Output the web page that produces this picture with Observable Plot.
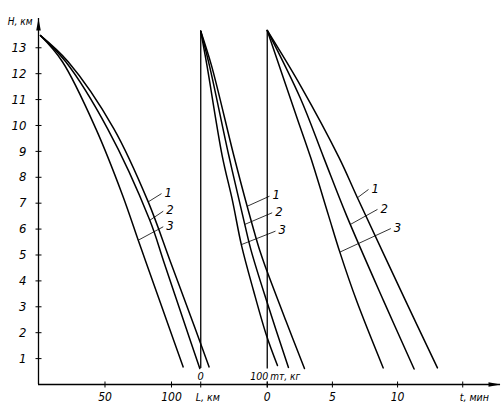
<!DOCTYPE html>
<html><head><meta charset="utf-8">
<script src="https://cdn.jsdelivr.net/npm/d3@7"></script>
<script src="https://cdn.jsdelivr.net/npm/@observablehq/plot@0.6"></script>
<style>body{margin:0;background:#fff}</style>
</head><body><div id="chart"></div>
<script>
// ---- data ----
// range L, km  vs altitude H, km
const rangeH_1 = [13.47, 12.46, 9.88, 7.05, 4.74, 2.16, 0.68];
const rangeL_1 = [1.5, 22.3, 56.6, 82.5, 99.2, 117.8, 128.3];
const rangeH_2 = [13.47, 12.46, 9.88, 6.34, 4.74, 2.16, 0.62];
const rangeL_2 = [1.5, 20.5, 51.9, 83.7, 94.2, 111.1, 121.3];
const rangeH_3 = [13.47, 12.46, 9.88, 7.31, 5.57, 4.74, 2.16, 0.68];
const rangeL_3 = [1.5, 18.0, 43.1, 63.2, 75.0, 80.7, 98.5, 108.8];
// fuel mass m_T, kg vs H
const fuelH_1 = [13.64, 12.31, 8.84, 6.88, 5.17, 4.38, 2.47, 0.62];
const fuelM_1 = [0, 16.2, 49.7, 69.8, 88.8, 99.6, 127.9, 156.0];
const fuelH_2 = [13.64, 12.31, 8.84, 6.18, 5.17, 3.24, 0.66];
const fuelM_2 = [0, 13.1, 42.2, 66.2, 75.8, 98.9, 131.9];
const fuelH_3 = [13.64, 12.31, 8.84, 7.10, 5.37, 3.63, 1.89, 0.73];
const fuelM_3 = [0, 9.4, 32.2, 47.7, 61.3, 79.3, 98.9, 115.4];
// time t, min vs H
const timeH_1 = [13.67, 11.54, 8.75, 7.21, 3.24, 0.64];
const timeT_1 = [0, 2.55, 5.52, 6.92, 10.61, 13.06];
const timeH_2 = [13.67, 11.04, 8.75, 6.53, 3.24, 0.60];
const timeT_2 = [0, 2.55, 4.34, 6.08, 8.92, 11.27];
const timeH_3 = [13.67, 10.27, 8.75, 6.53, 5.11, 3.24, 0.64];
const timeT_3 = [0, 2.30, 3.34, 4.70, 5.57, 6.85, 8.90];

// ticks
const H_TICKS = [1, 2, 3, 4, 5, 6, 7, 8, 9, 10, 11, 12, 13];
const L_TICKS = [50, 100];
const M_TICKS = [0, 100];
const T_TICKS = [0, 5, 10, 15];
const CURVE_IDS = ["1", "2", "3"];

// annotation: curve label leaders [H on curve, end value (native units), end H]
const rangeLead = [[7.05, 92.5, 7.37], [6.34, 93.8, 6.69], [5.57, 93.8, 6.09]];
const fuelLead  = [[6.88, 103.4, 7.27], [6.18, 107.4, 6.63], [5.40, 112.4, 5.92]];
const timeLead  = [[7.21, 7.77, 7.53], [6.18, 8.46, 6.76], [5.11, 9.48, 6.02]];

// ---- composite abscissa: three scales drawn along one axis ----
const FUEL0 = 122, FUEL_K = 0.5, T0 = 172, T_K = 9.8, XMAX = 347.4, YMAX = 14.13;
const conv = {L: v => v, m: v => FUEL0 + FUEL_K * v, t: v => T0 + T_K * v};

const groups = [
  {g: "L", H: [rangeH_1, rangeH_2, rangeH_3], V: [rangeL_1, rangeL_2, rangeL_3], lead: rangeLead},
  {g: "m", H: [fuelH_1, fuelH_2, fuelH_3], V: [fuelM_1, fuelM_2, fuelM_3], lead: fuelLead},
  {g: "t", H: [timeH_1, timeH_2, timeH_3], V: [timeT_1, timeT_2, timeT_3], lead: timeLead}
];

const rows = [], leaders = [], origins = [];
for (const G of groups) {
  const f = conv[G.g];
  G.H.forEach((hs, i) => {
    hs.forEach((h, j) => rows.push({id: G.g + i, u: f(G.V[i][j]), H: h}));
    const [hOn, vEnd, hEnd] = G.lead[i];
    let uOn = f(G.V[i][0]);
    for (let j = 0; j < hs.length - 1; j++) {
      if (hs[j] >= hOn && hs[j + 1] <= hOn) {
        const k = (hs[j] - hOn) / (hs[j] - hs[j + 1]);
        uOn = f(G.V[i][j] + k * (G.V[i][j + 1] - G.V[i][j]));
        break;
      }
    }
    leaders.push({u1: uOn, H1: hOn, u2: f(vEnd), H2: hEnd, label: CURVE_IDS[i]});
  });
  if (G.g !== "L") {
    origins.push({u: f(0), top: d3.max(G.H, h => h[0]), bottom: d3.min(G.H, h => h[h.length - 1])});
  }
}

const FONT = "'Liberation Sans Narrow','DejaVu Sans Condensed','Liberation Sans',sans-serif";
const vtick = {draw(ctx, size) { const r = Math.sqrt(size / Math.PI); ctx.moveTo(0, -r); ctx.lineTo(0, r); }};
const htick = {draw(ctx, size) { const r = Math.sqrt(size / Math.PI); ctx.moveTo(-r, 0); ctx.lineTo(r, 0); }};
const arrowUp = {draw(ctx, size) { const r = Math.sqrt(size / Math.PI); ctx.moveTo(0, -r); ctx.lineTo(r * 0.38, r); ctx.lineTo(-r * 0.38, r); ctx.closePath(); }};

const xTickU = [...L_TICKS.map(conv.L), ...M_TICKS.map(conv.m), ...T_TICKS.map(conv.t)];
const belowNums = [
  ...L_TICKS.map(v => ({u: conv.L(v), text: String(v)})),
  ...T_TICKS.slice(0, 3).map(v => ({u: conv.t(v), text: String(v)}))
];
const txt = {fontFamily: FONT, fontStyle: "italic", fill: "black"};

const plot = Plot.plot({
  width: 503, height: 415,
  marginLeft: 38, marginRight: 3, marginTop: 18, marginBottom: 31,
  x: {domain: [0, XMAX], axis: null},
  y: {domain: [0, YMAX], axis: null},
  marks: [
    // axes
    Plot.ruleY([0], {stroke: "black", strokeWidth: 1.3}),
    Plot.ruleX([0], {stroke: "black", strokeWidth: 1.3}),
    Plot.dot([{u: XMAX, H: 0}], {x: "u", y: "H", symbol: arrowUp, rotate: 90, r: 6, fill: "black", stroke: "none", dx: -6}),
    Plot.dot([{u: 0, H: YMAX}], {x: "u", y: "H", symbol: arrowUp, r: 6, fill: "black", stroke: "none", dy: 6}),
    Plot.dot(xTickU, {x: d => d, y: () => 0, symbol: vtick, r: 3, stroke: "black", strokeWidth: 1}),
    Plot.dot(H_TICKS, {x: () => 0, y: d => d, symbol: htick, r: 3, stroke: "black", strokeWidth: 1}),
    Plot.text(H_TICKS, {x: () => 0, y: d => d, text: d => String(d), dx: -12, textAnchor: "end", fontSize: 13, ...txt}),
    Plot.text(["H, км"], {x: () => 0, y: () => YMAX, text: d => d, dx: -6, dy: 3, textAnchor: "end", fontSize: 10, ...txt}),
    // x labels below the axis
    Plot.text(belowNums, {x: "u", y: () => 0, text: "text", dy: 13, fontSize: 12, ...txt}),
    Plot.text(["L, км"], {x: () => conv.m(0), y: () => 0, text: d => d, textAnchor: "start", dx: -5, dy: 13, fontSize: 10.5, ...txt}),
    Plot.text(["t, мин"], {x: () => conv.t(15), y: () => 0, text: d => d, textAnchor: "start", dx: -3, dy: 13, fontSize: 10.5, ...txt}),
    // fuel scale labels above the axis
    Plot.text([M_TICKS[0]], {x: d => conv.m(d), y: () => 0, text: d => String(d), dy: -8, fontSize: 11, ...txt}),
    Plot.text([M_TICKS[1]], {x: d => conv.m(d), y: () => 0, text: d => String(d), textAnchor: "end", dx: 1, dy: -8, fontSize: 10.5, ...txt}),
    Plot.text(["mт, кг"], {x: () => conv.m(M_TICKS[1]), y: () => 0, text: d => d, textAnchor: "start", dx: 3, dy: -8, fontSize: 10, ...txt}),
    // origin verticals of the fuel and time scales
    Plot.ruleX(origins, {x: "u", y1: "bottom", y2: "top", stroke: "black", strokeWidth: 1.3}),
    // curves
    Plot.line(rows, {x: "u", y: "H", z: "id", curve: "catmull-rom", stroke: "black", strokeWidth: 1.5}),
    // curve labels
    Plot.link(leaders, {x1: "u1", y1: "H1", x2: "u2", y2: "H2", stroke: "black", strokeWidth: 0.8}),
    Plot.text(leaders, {x: "u2", y: "H2", text: "label", dx: 3, dy: -1, textAnchor: "start", fontSize: 13, ...txt})
  ]
});
document.getElementById("chart").appendChild(plot);
</script>
</body></html>
